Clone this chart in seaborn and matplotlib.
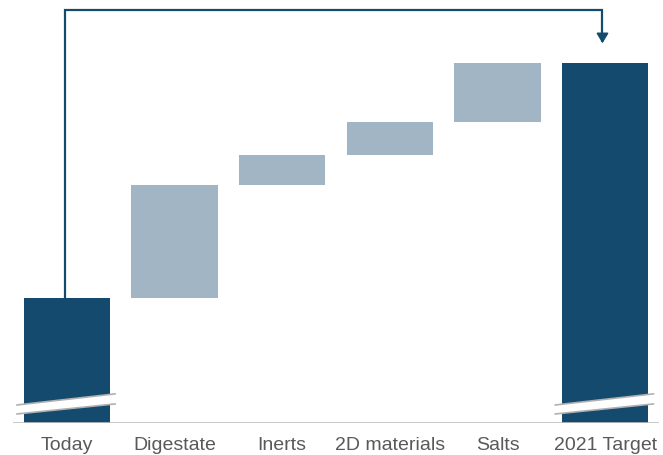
import matplotlib
matplotlib.use("Agg")
import matplotlib.pyplot as plt
import seaborn as sns
import numpy as np
import pandas as pd
from matplotlib.patches import Polygon

categories = ["Today", "Digestate", "Inerts", "2D materials", "Salts", "2021 Target"]
steps = [34.7, 31.4, 8.3, 9.2, 16.4]          # Today + increments
target = 100

DARK = "#134A6E"
LIGHT = "#A1B5C4"
TEXT = "#595959"

tops, bottoms, colors = [], [], []
run = 0
for i, s in enumerate(steps):
    bottoms.append(run if i > 0 else 0)
    run += s
    tops.append(run)
    colors.append(DARK if i == 0 else LIGHT)
tops.append(target)
bottoms.append(0)
colors.append(DARK)

df = pd.DataFrame({"cat": categories, "top": tops, "bottom": bottoms})

sns.set_theme(style="white")
plt.rcParams["font.family"] = ["Liberation Sans", "DejaVu Sans"]

fig = plt.figure(figsize=(6.63, 4.55), dpi=100)
ax = fig.add_axes([13 / 663, 32 / 455, 646 / 663, 423 / 455])

sns.barplot(data=df, x="cat", y="top", hue="cat", palette=colors, legend=False,
            width=0.8, linewidth=0, saturation=1, ax=ax)
sns.barplot(data=df, x="cat", y="bottom", color="white", width=0.82,
            linewidth=0, saturation=1, ax=ax)

ymax = target * 1.175
ax.set_ylim(0, ymax)
ax.set_xlim(-0.5, len(categories) - 0.5)

# axis break marks on the first and last bars
for idx in (0, len(categories) - 1):
    xl, xr = idx - 0.465, idx + 0.45
    yl0, yl1 = 2.5, 5.0
    yr0, yr1 = 5.3, 8.1
    poly = Polygon([[xl, yl0], [xr, yr0], [xr, yr1], [xl, yl1]], closed=True,
                   facecolor="white", edgecolor="none", zorder=5)
    ax.add_patch(poly)
    ax.plot([xl, xr], [yl0, yr0], color="#B0B0B0", lw=1.2, zorder=6)
    ax.plot([xl, xr], [yl1, yr1], color="#B0B0B0", lw=1.2, zorder=6)

# connector arrow from Today to 2021 Target
x0 = 0 - 0.02
x1 = len(categories) - 1 - 0.025
yline = target * 1.147
ax.plot([x0, x0, x1, x1], [tops[0], yline, yline, target * 1.06],
        color=DARK, lw=1.6, solid_joinstyle="miter", zorder=4)
ax.annotate("", xy=(x1, target * 1.047), xytext=(x1, target * 1.08),
            arrowprops=dict(arrowstyle="-|>,head_length=0.5,head_width=0.3",
                            color=DARK, lw=1.2))

ax.axhline(0, color="#BFBFBF", lw=1.2, zorder=7)

for sp in ax.spines.values():
    sp.set_visible(False)
ax.set_yticks([])
ax.set_xlabel("")
ax.set_ylabel("")
ax.tick_params(axis="x", length=0, pad=10, labelsize=14, labelcolor=TEXT)

fig.savefig("out.png", dpi=100)
